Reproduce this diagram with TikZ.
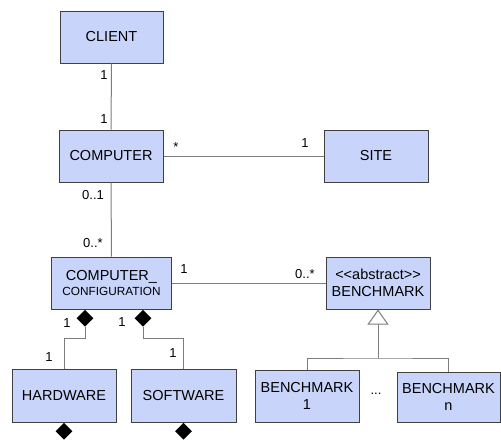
\documentclass[tikz,border=0pt]{standalone}
\usepackage{fontspec}
\setmainfont{Liberation Sans}
\usetikzlibrary{shapes.geometric,arrows.meta}
\definecolor{boxfill}{RGB}{200,212,250}
\definecolor{boxline}{RGB}{64,64,64}
\definecolor{connline}{RGB}{125,125,125}
\begin{document}
\begin{tikzpicture}[x=1pt,y=-1pt,
  umlclass/.style={draw=boxline,fill=boxfill,line width=1pt,rectangle,inner sep=0pt,
    align=center,font=\fontsize{14.5}{17.5}\selectfont},
  conn/.style={draw=connline,line width=1pt},
  mult/.style={inner sep=0pt,font=\fontsize{13}{15}\selectfont},
  compdiamond/.style={diamond,fill=black,draw=none,inner sep=0pt,minimum width=17pt,minimum height=17pt},
  gentip/.style={-{Triangle[open,length=15pt,width=21pt,line width=1pt]}}
]
\useasboundingbox (0,0) rectangle (501,445);

% classes
\node[umlclass,minimum width=103pt,minimum height=52pt] (client) at (111.5,37) {CLIENT};
\node[umlclass,minimum width=104pt,minimum height=52pt] (computer) at (111,156) {COMPUTER};
\node[umlclass,minimum width=104pt,minimum height=52pt] (site) at (376,156) {SITE};
\node[umlclass,minimum width=120pt,minimum height=52pt] (config) at (111.5,283)
  {COMPUTER\_\\[-2pt]{\fontsize{11.8}{14}\selectfont CONFIGURATION}};
% \kern0pt keeps << and >> from turning into guillemets
\node[umlclass,minimum width=104pt,minimum height=52pt] (bench) at (378,283)
  {<\kern0pt<abstract>\kern0pt>\\BENCHMARK};
\node[umlclass,minimum width=104pt,minimum height=53pt] (hw) at (64,395.5) {HARDWARE};
\node[umlclass,minimum width=105pt,minimum height=53pt] (sw) at (183.5,395.5) {SOFTWARE};
\node[umlclass,minimum width=104pt,minimum height=52pt] (bone) at (307,396) {BENCHMARK\\1};
\node[umlclass,minimum width=103pt,minimum height=50pt] (bn) at (448.5,397) {BENCHMARK\\n};
\node[inner sep=0pt,font=\fontsize{13}{15}\selectfont] (dots) at (376,394) {...};

% associations
\draw[conn] (client.south) -- (computer.north);
\draw[conn] (computer.east) -- (site.west);
\draw[conn] (computer.south) -- (config.north);
\draw[conn] (config.east) -- (bench.west);

% composition diamonds
\coordinate (hwcol) at (85,0);
\coordinate (swcol) at (143,0);
\node[compdiamond,anchor=north] (dhw) at (hwcol |- config.south) {};
\node[compdiamond,anchor=north] (dsw) at (swcol |- config.south) {};
\node[compdiamond,anchor=north] (dhwb) at (hw.south) {};
\node[compdiamond,anchor=north] (dswb) at (sw.south) {};
\draw[conn] (dhw.south) -- ++(0,12) -| (hw.north);
\draw[conn] (dsw.south) -- ++(0,12) -| (sw.north);

% generalization
\coordinate (gen) at (378,358);
\draw[conn,gentip] (gen) -- (bench.south);
\draw[conn] (bone.north) |- (gen) -| (bn.north);

% multiplicities
\node[mult] at (104,75) {1};
\node[mult] at (104,119) {1};
\node[mult] at (176,147) {*};
\node[mult] at (305,143) {1};
\node[mult] at (93,195) {0..1};
\node[mult] at (93,243) {0..*};
\node[mult] at (184,269) {1};
\node[mult] at (305,274) {0..*};
\node[mult] at (67,323) {1};
\node[mult] at (49,357) {1};
\node[mult] at (122,322) {1};
\node[mult] at (173,353) {1};
\end{tikzpicture}
\end{document}
